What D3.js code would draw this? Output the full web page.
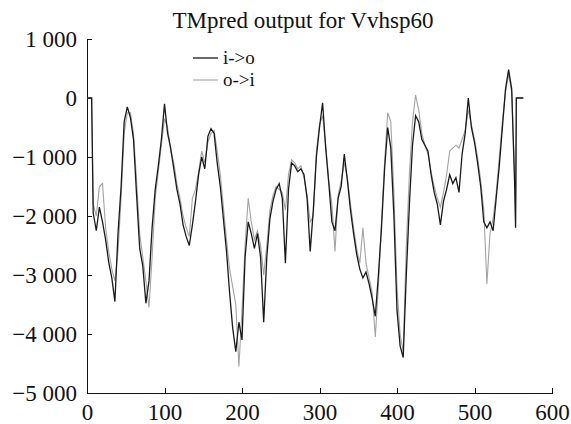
<!DOCTYPE html>
<html lang="en">

<head>
    <title>TMpred output for Vvhsp60</title>
    <meta charset="UTF-8">
    <script src="https://cdn.jsdelivr.net/npm/d3@7"></script>
    <style>
        body {
            margin: 0;
            background: #fff;
        }

        svg text {
            font-family: 'Liberation Serif', 'Times New Roman', serif;
            fill: #111;
        }

        .axis path,
        .axis line {
            fill: none;
            stroke: #111;
            shape-rendering: crispEdges;
        }
    </style>
</head>

<body>
<script>
    // residue positions
    var positions = [0, 6,
        8, 12, 16, 20, 24, 28, 32, 36, 40, 44, 48, 52, 56, 60, 64, 68, 72, 76,
        80, 84, 88, 92, 96, 100, 104, 108, 112, 116, 120, 124, 128, 132, 136, 140, 144, 148, 152, 156,
        160, 164, 168, 172, 176, 180, 184, 188, 192, 196, 200, 204, 208, 212, 216, 220, 224, 228, 232, 236,
        240, 244, 248, 252, 256, 260, 264, 268, 272, 276, 280, 284, 288, 292, 296, 300, 304, 308, 312, 316,
        320, 324, 328, 332, 336, 340, 344, 348, 352, 356, 360, 364, 368, 372, 376, 380, 384, 388, 392, 396,
        400, 404, 408, 412, 416, 420, 424, 428, 432, 436, 440, 444, 448, 452, 456, 460, 464, 468, 472, 476,
        480, 484, 488, 492, 496, 500, 504, 508, 512, 516, 520, 524, 528, 532, 536, 540, 544, 548, 552,
        553, 554, 563];

    // i->o scores
    var inOut = [0, 0,
        -1950, -2250, -1850, -2100, -2400, -2780, -3050, -3450, -2300, -1500, -400, -150, -330, -700, -1650, -2550, -2850, -3480,
        -3100, -2200, -1550, -1150, -700, -100, -600, -850, -1200, -1550, -1800, -2150, -2350, -2500, -2150, -1750, -1300, -1000, -1200, -650,
        -520, -600, -1100, -1500, -2050, -2600, -3300, -3900, -4300, -3800, -4100, -2700, -2100, -2300, -2550, -2300, -2700, -3800, -2700, -2050,
        -1750, -1550, -1450, -1700, -2800, -1550, -1100, -1150, -1250, -1200, -1300, -1700, -2600, -1900, -1000, -500, -80, -850, -1450, -2100,
        -2250, -1700, -1500, -950, -1400, -1900, -2300, -2650, -2900, -3050, -2950, -3150, -3400, -3700, -3000, -2200, -1200, -500, -850, -2000,
        -3600, -4200, -4400, -3000, -1800, -800, -300, -400, -700, -800, -900, -1300, -1600, -1800, -2150, -1750, -1550, -1300, -1450, -1350,
        -1600, -950, -600, 0, -500, -750, -1100, -1500, -2100, -2200, -2100, -2250, -1700, -1150, -500, 150, 480, 150, -1550,
        -2200, 0, 0];

    // o->i scores
    var outIn = [0, 0,
        -1800, -2000, -1500, -1450, -2200, -2600, -2900, -3100, -2600, -1700, -600, -250, -250, -600, -1400, -2300, -2700, -3100,
        -3550, -2700, -1700, -1250, -800, -350, -500, -900, -1100, -1450, -1700, -2000, -2200, -2350, -1700, -1550, -1250, -900, -1100, -750,
        -600, -550, -900, -1300, -1850, -2400, -2900, -3200, -3500, -4550, -3600, -2500, -1700, -2100, -2400, -2250, -2500, -3000, -2500, -1900,
        -1650, -1500, -1550, -1600, -1900, -1300, -1050, -1100, -1200, -1150, -1350, -1650, -2100, -2000, -900, -450, -300, -800, -1400, -1800,
        -2600, -1650, -1400, -1100, -1350, -1800, -2200, -2550, -2800, -2200, -2800, -3050, -3300, -4050, -3200, -2100, -1100, -250, -400, -1600,
        -3200, -4000, -4300, -2500, -1300, -400, 50, -200, -600, -800, -950, -1250, -1500, -1700, -1850, -1600, -1300, -900, -850, -800,
        -850, -700, -550, -200, -450, -700, -1000, -1400, -1900, -3150, -2300, -2050, -1600, -1000, -400, 100, 400, 100, -1400,
        -2100, 0, 0];

    var xTicks = [0, 100, 200, 300, 400, 500, 600];
    var yTicks = [-5000, -4000, -3000, -2000, -1000, 0, 1000];
    var yTickLabels = ["\u22125 000", "\u22124 000", "\u22123 000", "\u22122 000", "\u22121 000", "0", "1 000"];

    var seriesNames = ["i->o", "o->i"];

    function draw() {
        "use strict";

        var serif = "'Liberation Serif', 'Times New Roman', serif";

        var cover = {
                top: 39,
                right: 19,
                bottom: 31,
                left: 87
            },
            fullWidth = 571,
            fullHeight = 424,
            width = fullWidth - cover.left - cover.right,
            height = fullHeight - cover.top - cover.bottom;

        var svg = d3.select("body")
            .append("svg")
            .attr("width", fullWidth)
            .attr("height", fullHeight);

        var x = d3.scaleLinear()
            .domain([0, 600])
            .range([cover.left, cover.left + width]);

        var y = d3.scaleLinear()
            .domain([-5000, 1000])
            .range([cover.top + height, cover.top]);

        var yAxis = d3.axisLeft(y)
            .tickValues(yTicks)
            .tickFormat(function(d, i) {
                return yTickLabels[i];
            })
            .tickSizeInner(-5)
            .tickSizeOuter(0)
            .tickPadding(10);

        var xAxis = d3.axisBottom(x)
            .tickValues(xTicks)
            .tickSizeInner(-5)
            .tickSizeOuter(0)
            .tickPadding(11);

        svg.append("g")
            .attr("class", "y axis")
            .attr("transform", "translate(" + cover.left + ",0)")
            .call(yAxis);

        svg.append("g")
            .attr("class", "x axis")
            .attr("transform", "translate(0," + (cover.top + height) + ")")
            .call(xAxis);

        svg.selectAll(".axis")
            .attr("font-family", serif)
            .attr("font-size", 23);

        svg.selectAll(".axis text")
            .style("font-family", serif)
            .style("font-size", "23px")
            .attr("fill", "#111");

        var line = d3.line()
            .x(function(d) { return x(d[0]); })
            .y(function(d) { return y(d[1]); });

        var colors = ["#1a1a1a", "#a3a3a3"];
        var widths = [1.3, 1.1];

        // o->i drawn first, i->o on top
        [outIn, inOut].forEach(function(vals, k) {
            var idx = 1 - k;
            svg.append("path")
                .datum(positions.map(function(p, i) { return [p, vals[i]]; }))
                .attr("fill", "none")
                .attr("stroke", colors[idx])
                .attr("stroke-width", widths[idx])
                .attr("stroke-linejoin", "miter")
                .attr("d", line);
        });

        // title
        svg.append("text")
            .attr("x", 303)
            .attr("y", 28)
            .attr("text-anchor", "middle")
            .style("font-size", "23px")
            .text("TMpred output for Vvhsp60");

        // legend
        var legend = svg.selectAll(".legend")
            .data(seriesNames)
            .enter().append("g")
            .attr("class", "legend")
            .attr("transform", function(d, i) {
                return "translate(193," + (58 + i * 22) + ")";
            });

        legend.append("line")
            .attr("x1", 0)
            .attr("x2", 25)
            .attr("stroke", function(d, i) { return colors[i]; })
            .attr("stroke-width", function(d, i) { return widths[i]; });

        legend.append("text")
            .attr("x", 30)
            .attr("dy", "0.32em")
            .style("font-size", "19px")
            .text(function(d) { return d; });
    }

    draw();
</script>
</body>

</html>
